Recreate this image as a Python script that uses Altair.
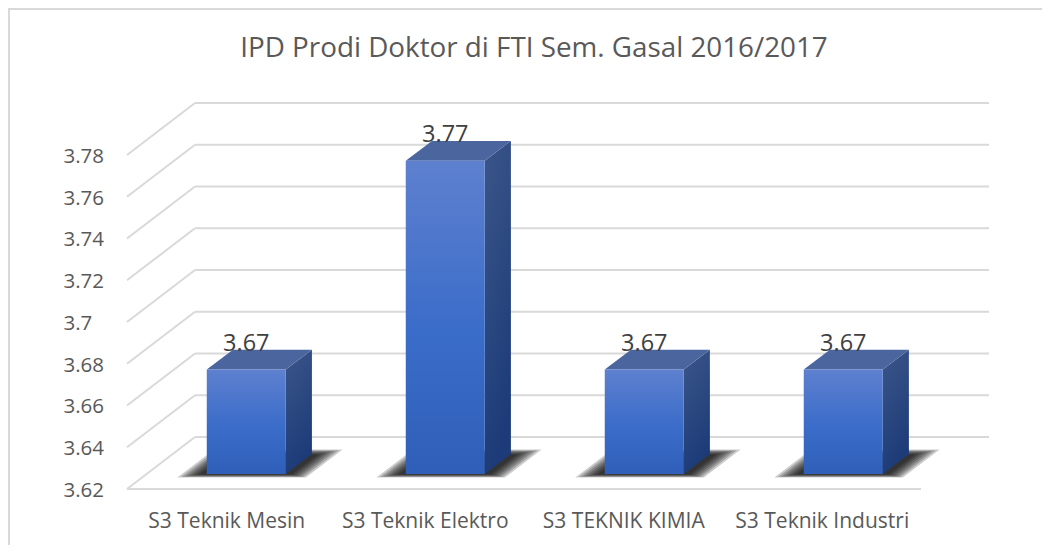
import altair as alt
import pandas as pd

categories = ["S3 Teknik Mesin", "S3 Teknik Elektro", "S3 TEKNIK KIMIA", "S3 Teknik Industri"]
values = [3.67, 3.77, 3.67, 3.67]
ticks = [3.62, 3.64, 3.66, 3.68, 3.70, 3.72, 3.74, 3.76, 3.78]
title_text = "IPD Prodi Doktor di FTI Sem. Gasal 2016/2017"

FONT = "Open Sans"
TXT = "#595959"
GRID = "#D9D9D9"

# depth of the 3-D box, in data units
DX = 0.3426      # category units
DY = 0.02491     # value units
BASE = 3.62
D_FRONT = 0.2885  # bar's front plane (fraction of depth)
D_BACK = 0.673    # bar's back plane
HALF = 0.199      # half a bar width, in category units
STEP = 1.0025     # bar spacing, in category units

x_scale = alt.Scale(domain=[0, 4 + DX], range=[0, 862], nice=False, zero=False)
y_scale = alt.Scale(domain=[BASE, 3.78 + DY], range=[386, 0], nice=False, zero=False)

label_expr = "[" + ",".join(f"'{c}'" for c in categories) + "][floor(datum.value)]"
x_axis = alt.Axis(values=[i + 0.5 for i in range(len(categories))], labelExpr=label_expr, ticks=False,
                  domain=False, grid=False, labelFont=FONT, labelFontSize=21, labelColor=TXT,
                  labelPadding=21, labelOverlap=False, labelFlush=False, title=None)
y_axis = alt.Axis(values=ticks, format=".3~g", ticks=False, domain=False, grid=False, labelFont=FONT,
                  labelFontSize=20.5, labelColor=TXT, labelAlign="left", labelPadding=64,
                  labelOffset=1.5, title=None)

def X(f="x", **k):
    return alt.X(f, type="quantitative", scale=x_scale, axis=x_axis, stack=None, **k)

def Y(f="y", **k):
    return alt.Y(f, type="quantitative", scale=y_scale, axis=y_axis, stack=None, **k)

def fx(i, d):
    return i * STEP + 0.502 + d * DX

def fy(v, d):
    return v + d * DY

def parallelogram(key, i, v, d0, d1, pad):
    """Horizontal slab at value v between depths d0 and d1, as a vertical-orient area."""
    a0, b0 = fx(i, d0) - HALF - pad, fx(i, d0) + HALF + pad
    a1, b1 = fx(i, d1) - HALF - pad, fx(i, d1) + HALF + pad
    lo, hi = fy(v, d0), fy(v, d1)
    return [
        {"k": key, "x": a0, "y": lo, "y2": lo},
        {"k": key, "x": a1, "y": hi, "y2": lo},
        {"k": key, "x": b0, "y": hi, "y2": lo},
        {"k": key, "x": b1, "y": hi, "y2": hi},
    ]

# grid
back = pd.DataFrame([{"x": DX, "x2": 4 + DX, "y": t + DY, "y2": t + DY} for t in ticks])
diag = pd.DataFrame([{"x": 0.0, "x2": DX, "y": t, "y2": t + DY} for t in ticks])
floor = pd.DataFrame([{"x": 0.0, "x2": 4.0, "y": BASE, "y2": BASE}])
grid_df = pd.concat([back, diag, floor], ignore_index=True)

grid = alt.Chart(grid_df).mark_rule(color=GRID, strokeWidth=2).encode(
    x=X(), x2="x2:Q", y=Y(), y2="y2:Q"
)

# frame (only top and left are visible in the picture)
frame_l = alt.Chart(pd.DataFrame({"a": [0]})).mark_rule(color=GRID, strokeWidth=2).encode(
    x=alt.value(-118), y=alt.value(-95), y2=alt.value(442)
)
frame_t = alt.Chart(pd.DataFrame({"a": [0]})).mark_rule(color=GRID, strokeWidth=2).encode(
    y=alt.value(-94), x=alt.value(-119), x2=alt.value(915)
)

# shadows: nested floor parallelograms approximate the blur
blur_steps = [(0.22, 0.76, 0.125), (0.23, 0.745, 0.11), (0.24, 0.73, 0.095), (0.25, 0.715, 0.08),
              (0.26, 0.70, 0.065), (0.27, 0.685, 0.05), (0.28, 0.67, 0.035)]
shadow_rows = []
for i, c in enumerate(categories):
    for lay, (d0, d1, pad) in enumerate(blur_steps):
        shadow_rows += parallelogram(f"{c}-{lay}", i, BASE, d0, d1, pad)
shadow = alt.Chart(pd.DataFrame(shadow_rows)).mark_area(color="#000000", opacity=0.2).encode(
    x=X(), y=Y(), y2="y2:Q", detail="k:N"
)

# side faces
side_rows = []
for i, (c, v) in enumerate(zip(categories, values)):
    for d in (D_FRONT, D_BACK):
        side_rows.append({"c": c, "x": fx(i, d) + HALF, "y": fy(v, d), "y2": fy(BASE, d)})
side = alt.Chart(pd.DataFrame(side_rows)).mark_area(
    color=alt.Gradient(gradient="linear", x1=0, y1=0, x2=0.3, y2=1,
                       stops=[alt.GradientStop(offset=0, color="#3C5689"),
                              alt.GradientStop(offset=1, color="#1C3B78")])
).encode(x=X(), y=Y(), y2="y2:Q", detail="c:N")

# top faces
top_rows = []
for i, (c, v) in enumerate(zip(categories, values)):
    top_rows += parallelogram(c, i, v, D_FRONT, D_BACK, 0.0)
top = alt.Chart(pd.DataFrame(top_rows)).mark_area(color="#4B659F").encode(
    x=X(), y=Y(), y2="y2:Q", detail="k:N"
)

# front faces and labels
front_df = pd.DataFrame([
    {"c": c, "v": v, "x": fx(i, D_FRONT) - HALF, "x2": fx(i, D_FRONT) + HALF, "xm": fx(i, D_FRONT),
     "y": fy(v, D_FRONT), "y2": fy(BASE, D_FRONT)}
    for i, (c, v) in enumerate(zip(categories, values))
])
front = alt.Chart(front_df).mark_rect(
    color=alt.Gradient(gradient="linear", x1=0, y1=0, x2=0, y2=1,
                       stops=[alt.GradientStop(offset=0, color="#5E80CF"),
                              alt.GradientStop(offset=0.55, color="#3A6CC9"),
                              alt.GradientStop(offset=1, color="#2F5FB8")])
).encode(x=X(), x2="x2:Q", y=Y(), y2="y2:Q")

labels = alt.Chart(front_df).mark_text(
    font=FONT, fontSize=23.5, color="#404040", baseline="alphabetic", align="center", dy=-19
).encode(x=X("xm"), y=Y(), text=alt.Text("v:Q", format=".2f"))

chart = alt.layer(frame_l, frame_t, grid, shadow, side, top, front, labels).properties(
    width=862, height=386,
    padding={"left": 119, "top": 95, "right": 53, "bottom": 56},
    autosize=alt.AutoSizeParams(type="none"),
    background="white",
    title=alt.TitleParams(title_text, font=FONT, fontSize=27.8, color=TXT, fontWeight="normal",
                          anchor="middle", dx=-24, offset=-56),
).configure_view(stroke=None)

chart.save("out.html", embed_options={"renderer": "svg", "actions": False})
